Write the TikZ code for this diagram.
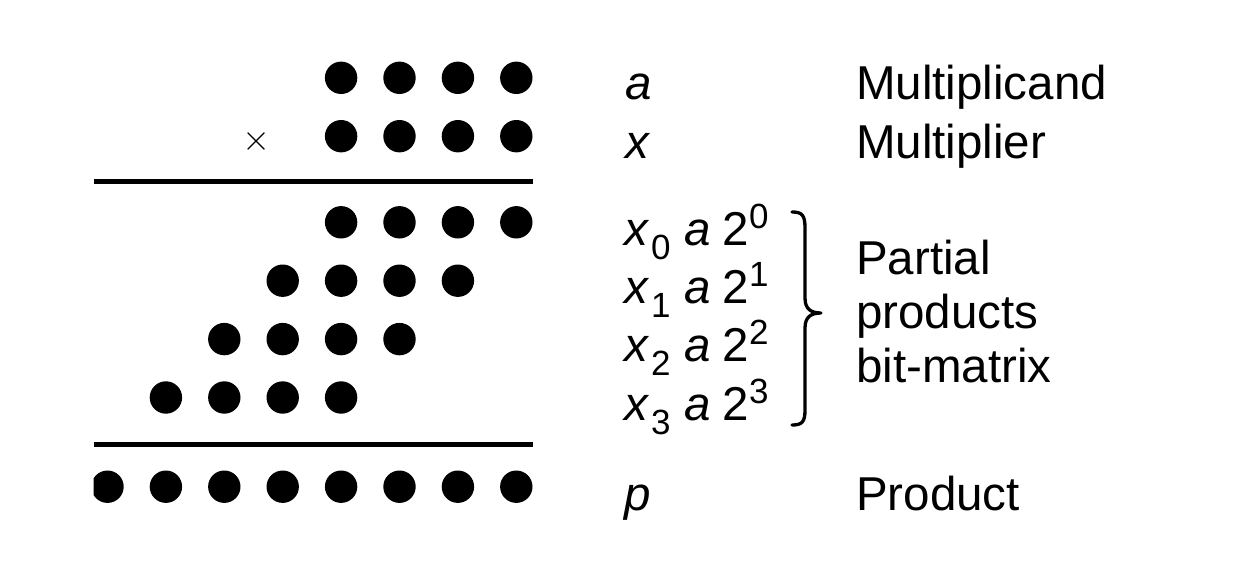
\documentclass[tikz,border=0pt]{standalone}
\usepackage{fontspec}
\setmainfont{Liberation Sans}
\begin{document}
\begin{tikzpicture}[x=1pt,y=-1pt,
  dot/.style={circle,fill=black,draw=none,inner sep=0pt,minimum size=32.4pt},
  rulebar/.style={line width=4.6pt},
  lbl/.style={inner sep=0pt,anchor=base west,font=\fontsize{47.5}{56}\selectfont},
  ilbl/.style={inner sep=0pt,anchor=base west,font=\fontsize{47.5}{56}\selectfont\itshape},
  scr/.style={inner sep=0pt,anchor=base west,font=\fontsize{35}{42}\selectfont},
  bracepath/.style={line width=3.3pt,line cap=round,line join=round}]
\useasboundingbox (0,0) rectangle (1233,575);
% multiplicand and multiplier rows
\foreach \c in {0,...,3} {
  \node[dot] (a\c) at ({516.3-58.4*\c},77.8) {};
  \node[dot] (x\c) at ({516.3-58.4*\c},136.2) {};
}
\node[inner sep=0pt,scale=1.45,font=\fontsize{31}{36}\selectfont] (times) at (256.5,141.7) {$\times$};
\draw[rulebar] (94,181.7) -- (533,181.7);
% partial products
\foreach \r/\y in {0/222.3,1/280.7,2/339.1,3/397.5} {
  \foreach \k in {0,...,3} {
    \pgfmathtruncatemacro{\c}{\r+\k}
    \node[dot] (p\r c\c) at ({516.3-58.4*\c},\y) {};
  }
}
\draw[rulebar] (94,444.3) -- (533,444.3);
% product row (clipped at left)
\begin{scope}
\clip (93.5,440) rectangle (560,520);
\foreach \c in {0,...,7} {
  \node[dot] (q\c) at ({516.3-58.4*\c},486.7) {};
}
\end{scope}
% symbol labels
\node[ilbl] (la) at (625,100) {a};
\node[ilbl] (lx) at (625,158) {x};
\node[ilbl] (lp) at (624,510) {p};
\foreach \r/\b in {0/245,1/303.3,2/361.6,3/420} {
  \node[ilbl] (px\r) at (624,\b) {x};
  \node[scr] (ps\r) at (651,\b+14) {\r};
  \node[ilbl] (pa\r) at (684,\b) {a};
  \node[lbl] (pt\r) at (722,\b) {2};
  \node[scr] (pe\r) at (749,\b-17) {\r};
}
% brace
\draw[bracepath] (792,212) .. controls (802,212) and (805,215) .. (805,228)
  -- (805,298) .. controls (805,309) and (811,313) .. (821,313)
  .. controls (811,313) and (805,317) .. (805,328)
  -- (805,410) .. controls (805,422) and (802,425) .. (792,425);
% word labels
\node[lbl] (tm) at (856,100) {Multiplicand};
\node[lbl] (tx) at (856,158) {Multiplier};
\node[lbl] (t1) at (856,274) {Partial};
\node[lbl] (t2) at (856,328) {products};
\node[lbl] (t3) at (856,382) {bit-matrix};
\node[lbl] (tp) at (856,510) {Product};
\end{tikzpicture}
\end{document}
